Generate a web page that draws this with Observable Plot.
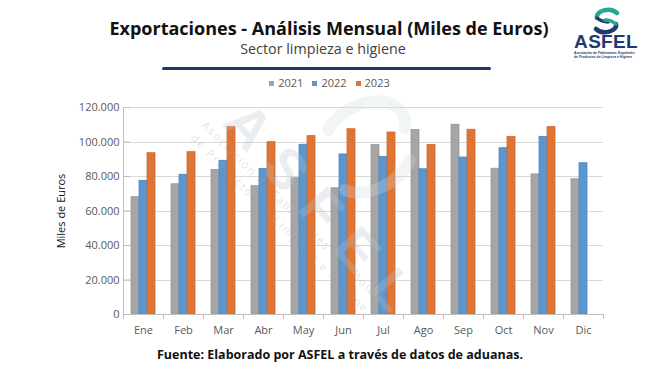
<!DOCTYPE html>
<html>
<head>
<meta charset="utf-8">
<script src="https://cdn.jsdelivr.net/npm/d3@7"></script>
<script src="https://cdn.jsdelivr.net/npm/@observablehq/plot@0.6"></script>
<style>
  html, body { margin: 0; padding: 0; background: #fff; }
  #wrap { position: relative; width: 654px; height: 368px; overflow: hidden; font-family: "Open Sans", sans-serif; background: #fff; }
  .abs { position: absolute; white-space: nowrap; }
  #title { left: 0; width: 658px; top: 16px; text-align: center; font-weight: 700; font-size: 18px; color: #111; }
  #subtitle { left: 0; width: 646px; top: 39px; text-align: center; font-size: 14.3px; color: #404040; }
  #rule { left: 162px; top: 67px; width: 329px; height: 3px; background: #1f3864; border-radius: 2px; }
  #legend { left: 0; width: 659px; top: 75px; text-align: center; font-size: 11px; color: #595959; }
  #legend span.sw { display: inline-block; width: 5px; height: 5px; margin-right: 4px; vertical-align: 1px; }
  #legend span.it { margin: 0 4.5px; }
  #caption { left: 0; width: 680px; top: 346px; text-align: center; font-weight: 700; font-size: 12.5px; color: #111; }
  #chart { position: absolute; left: 0; top: 0; }
  #logo { position: absolute; left: 560px; top: 0; }
  #wm { position: absolute; left: 0; top: 0; pointer-events: none; }
</style>
</head>
<body>
<div id="wrap">
  <div id="chart"></div>
  <svg id="wm" width="654" height="368">
    <g opacity="0.28">
      <path d="M328 130 A44 30 -30 0 1 405 128" fill="none" stroke="#cfdce0" stroke-width="12" stroke-linecap="round"/>
      <path d="M410 160 A44 30 -30 0 1 345 190" fill="none" stroke="#d3d9e2" stroke-width="12" stroke-linecap="round"/>
      <text transform="translate(221,124) rotate(48.6)" font-family="Liberation Sans, Arial, sans-serif" font-weight="700" font-size="56" fill="#b9c4d0" textLength="255" lengthAdjust="spacing">ASFEL</text>
      <text transform="translate(201,126) rotate(45)" font-family="Open Sans, sans-serif" font-size="11" fill="#9aa3ad" textLength="248" lengthAdjust="spacing">Asociación de Fabricantes Españoles</text>
      <text transform="translate(190,139) rotate(45)" font-family="Open Sans, sans-serif" font-size="11" fill="#9aa3ad" textLength="245" lengthAdjust="spacing">de Productos de Limpieza e Higiene</text>
    </g>
  </svg>
  <div id="title" class="abs">Exportaciones - Análisis Mensual (Miles de Euros)</div>
  <div id="subtitle" class="abs">Sector limpieza e higiene</div>
  <div id="rule" class="abs"></div>
  <div id="legend" class="abs"></div>
  <div id="caption" class="abs">Fuente: Elaborado por ASFEL a través de datos de aduanas.</div>
  <svg id="logo" width="94" height="70" viewBox="0 0 94 70">
    <g transform="translate(11,0)">
      <path d="M26 18 A11 7 0 0 1 46 13" fill="none" stroke="#2aa39a" stroke-width="4.5" stroke-linecap="round"/>
      <path d="M26 18 Q31 22 37 22" fill="none" stroke="#1f3b70" stroke-width="3.5" stroke-linecap="round"/>
      <path d="M45 24 A11 7 0 0 1 25 29" fill="none" stroke="#1f3b70" stroke-width="4.5" stroke-linecap="round"/>
      <path d="M45 24 Q40 20 34 20" fill="none" stroke="#2aa39a" stroke-width="3.5" stroke-linecap="round"/>
    </g>
    <text x="46" y="48" text-anchor="middle" font-family="Liberation Sans, Arial, sans-serif" font-weight="700" font-size="19" fill="#1f3b70" letter-spacing="0.3">ASFEL</text>
    <text x="14" y="53.5" font-family="Liberation Sans, Arial, sans-serif" font-weight="700" font-size="3.4" fill="#1f3b70">Asociación de Fabricantes Españoles</text>
    <text x="14" y="57.5" font-family="Liberation Sans, Arial, sans-serif" font-weight="700" font-size="3.4" fill="#1f3b70">de Productos de Limpieza e Higiene</text>
  </svg>
</div>
<script>
const months = ["Ene","Feb","Mar","Abr","May","Jun","Jul","Ago","Sep","Oct","Nov","Dic"];
const years = ["2021","2022","2023"];
const values2021 = [68000, 75500, 83700, 74400, 79000, 73200, 98200, 106900, 110000, 84500, 81200, 78400];
const values2022 = [77500, 81000, 89100, 84400, 98400, 92800, 91400, 84200, 91000, 96400, 103000, 87700];
const values2023 = [93500, 94100, 108600, 99900, 103400, 107400, 105500, 98200, 107100, 103000, 108600, null];
const yTicks = [0, 20000, 40000, 60000, 80000, 100000, 120000];
const colors = ["#a5a5a5", "#5a96d0", "#df7535"];
const strokes = ["#979797", "#4b87c0", "#cc6a2d"];

const series = [values2021, values2022, values2023];
const data = [];
months.forEach((m, i) => {
  years.forEach((yr, j) => {
    const v = series[j][i];
    if (v != null) data.push({month: m, year: yr, value: v});
  });
});

const fmt = d3.formatLocale({decimal: ",", thousands: ".", grouping: [3], currency: ["", "€"]}).format(",");

const legend = document.getElementById("legend");
years.forEach((yr, j) => {
  const it = document.createElement("span");
  it.className = "it";
  it.innerHTML = `<span class="sw" style="background:${colors[j]}"></span>${yr}`;
  legend.appendChild(it);
});

const W = 654, H = 368, ML = 121, MR = 50, MT = 107, MB = 54;

const chart = Plot.plot({
  width: W,
  height: H,
  marginLeft: ML,
  marginRight: MR,
  marginTop: MT,
  marginBottom: MB,
  style: {background: "transparent", fontFamily: "Open Sans, sans-serif"},
  fx: {domain: months, paddingInner: 0.36, paddingOuter: 0.18, label: null, axis: null},
  x: {domain: years, padding: 0, axis: null},
  y: {domain: [0, 120000], label: null},
  color: {domain: years, range: colors},
  marks: [
    Plot.barY(data, {fx: "month", x: "year", y: "value", fill: "year",
      stroke: d => strokes[years.indexOf(d.year)], strokeWidth: 0.8}),
    Plot.axisY({ticks: yTicks, tickFormat: fmt, tickSize: 6, tickPadding: 5, stroke: "#bfbfbf", color: "#595959", fontSize: 11,
      label: "Miles de Euros", labelAnchor: "center", labelOffset: 73, labelArrow: "none"}),
    Plot.axisFx({anchor: "bottom", tickSize: 0, tickPadding: 12, fontSize: 11, color: "#595959", label: null})
  ]
});

document.getElementById("chart").appendChild(chart);

// gridlines, axis lines and category boundary ticks, placed with the library's scales
const fx = chart.scale("fx");
const ys = chart.scale("y");
const svg = d3.select(chart);
const y0 = ys.apply(0), yTop = ys.apply(120000);
const step = fx.step !== undefined ? fx.step : fx.bandwidth / (1 - fx.paddingInner);
const bounds = months.map(m => fx.apply(m) + fx.bandwidth / 2 - step / 2);
bounds.push(fx.apply(months[months.length - 1]) + fx.bandwidth / 2 + step / 2);
const x0 = bounds[0], x1 = bounds[bounds.length - 1];

const grid = svg.insert("g", ":first-child").attr("stroke", "#d9d9d9").attr("stroke-width", 1);
yTicks.slice(1).forEach(t => {
  const yy = Math.round(ys.apply(t)) + 0.5;
  grid.append("line").attr("x1", x0).attr("x2", x1).attr("y1", yy).attr("y2", yy);
});
const g = svg.append("g").attr("stroke", "#bfbfbf").attr("stroke-width", 1);
g.append("line").attr("x1", Math.round(x0) + 0.5).attr("x2", Math.round(x0) + 0.5).attr("y1", yTop).attr("y2", y0);
g.append("line").attr("x1", x0).attr("x2", x1).attr("y1", Math.round(y0) + 0.5).attr("y2", Math.round(y0) + 0.5);
bounds.forEach(b => {
  const bx = Math.round(b) + 0.5;
  g.append("line").attr("x1", bx).attr("x2", bx).attr("y1", y0).attr("y2", y0 + 5);
});
svg.selectAll("text").filter(function() { return this.textContent === "Miles de Euros"; }).attr("fill", "#111");
</script>
</body>
</html>
